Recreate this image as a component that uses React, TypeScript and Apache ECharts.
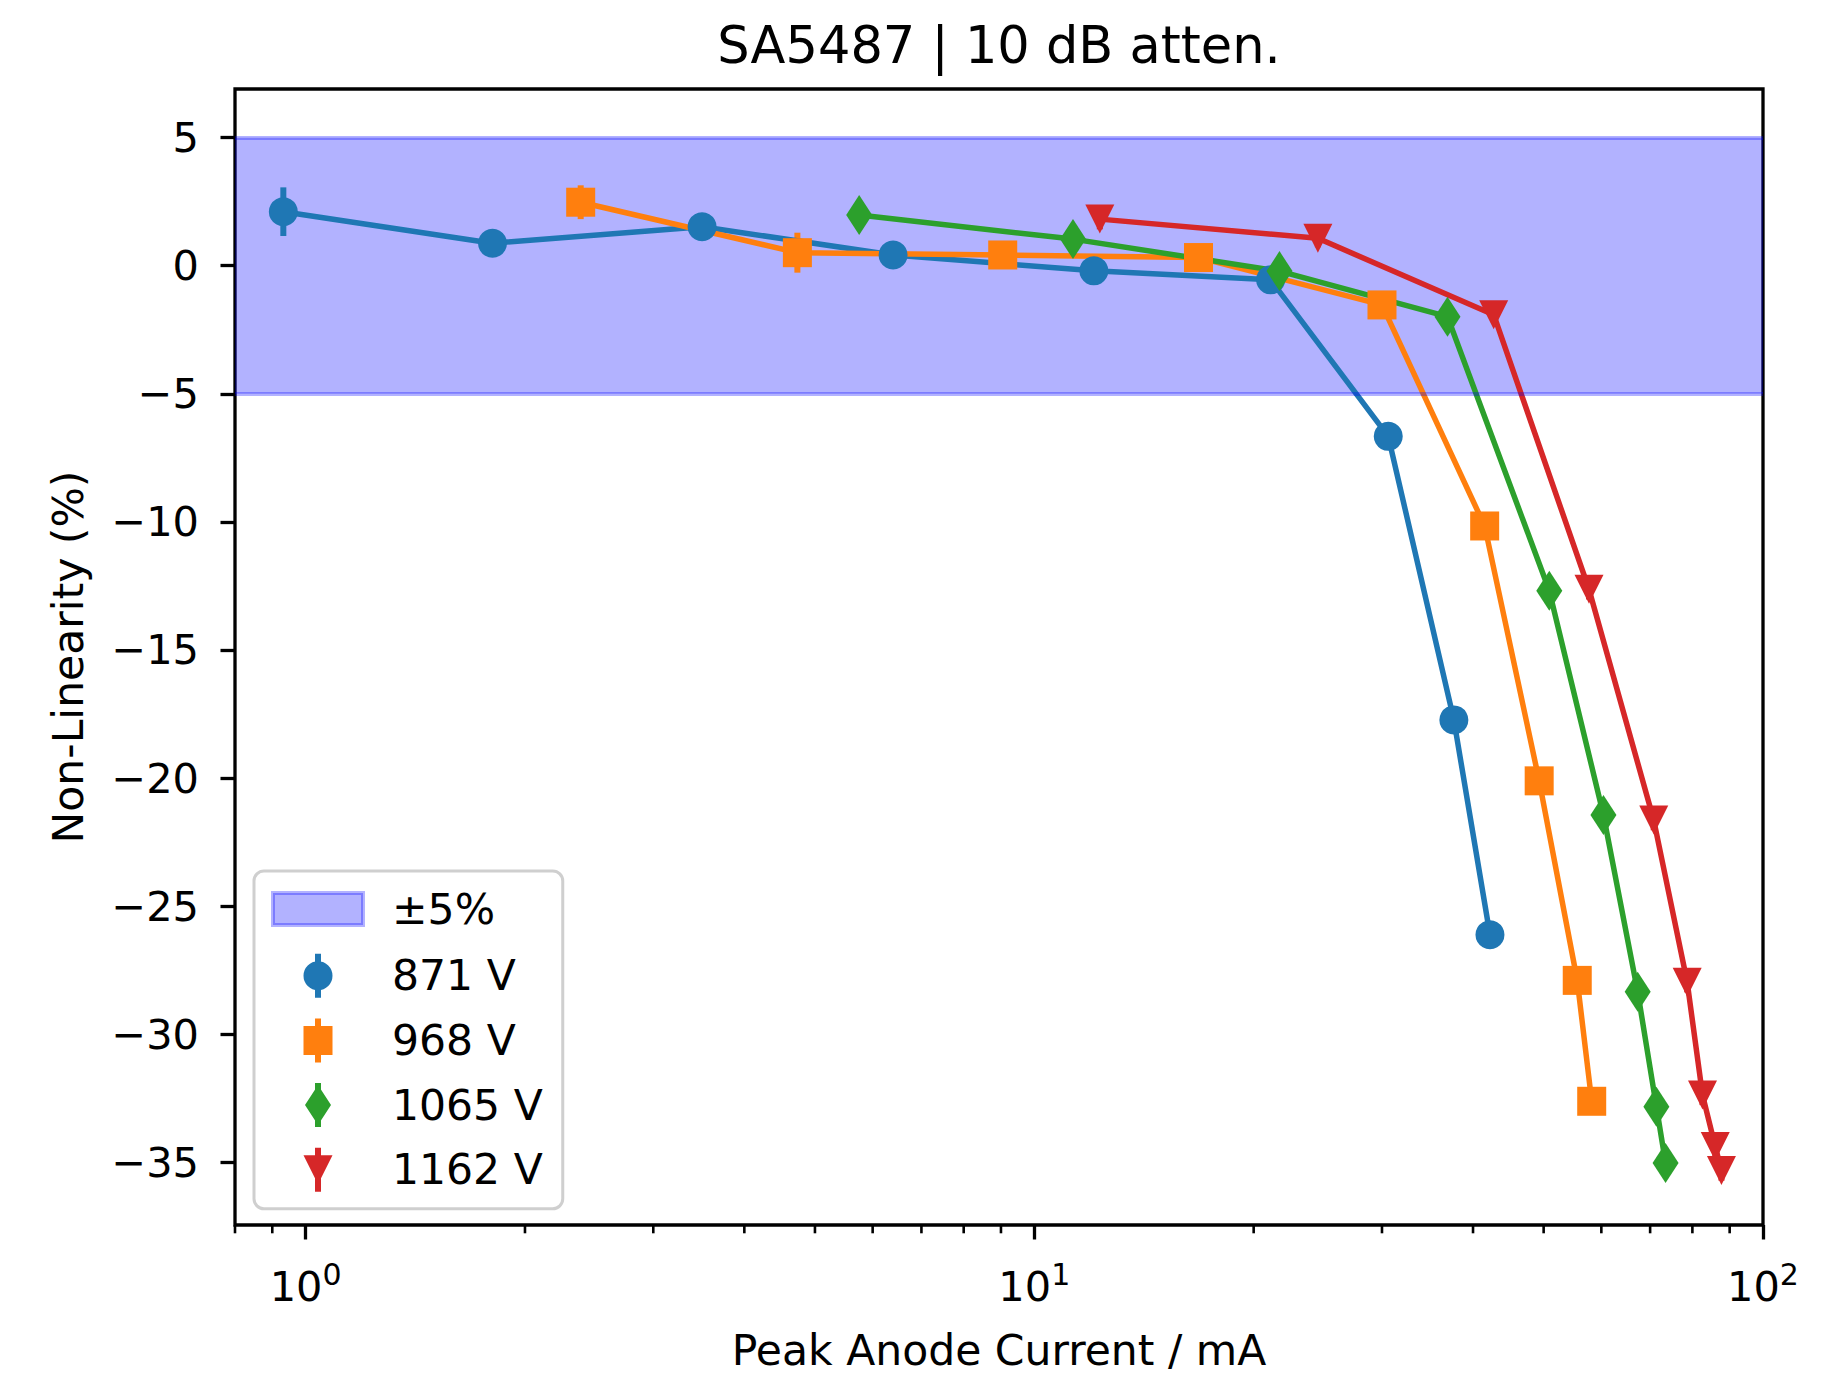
import React, { useEffect, useRef } from 'react';
import * as echarts from 'echarts';

const TITLE = 'SA5487 | 10 dB atten.';
const X_LABEL = 'Peak Anode Current / mA';
const Y_LABEL = 'Non-Linearity (%)';

const X_MIN = 0.8;
const X_MAX = 100;
const Y_MIN = -37.45;
const Y_MAX = 6.9;
const X_MAJOR = [1, 10, 100];
const X_MINOR = [0.8, 0.9, 2, 3, 4, 5, 6, 7, 8, 9, 20, 30, 40, 50, 60, 70, 80, 90];
const Y_TICKS = [-35, -30, -25, -20, -15, -10, -5, 0, 5];

const BAND = [-5, 5];
const BAND_LABEL = '±5%';

const NAMES = ['871 V', '968 V', '1065 V', '1162 V'];
const COLORS = ['#1f77b4', '#ff7f0e', '#2ca02c', '#d62728'];

const X_871 = [0.932, 1.805, 3.5, 6.4, 12.07, 21.1, 30.6, 37.65, 42.2];
const Y_871 = [2.11, 0.88, 1.52, 0.42, -0.2, -0.55, -6.66, -17.73, -26.12];
const E_871 = [0.95, 0.35, 0.35, 0.3, 0.3, 0.3, 0.4, 0.5, 0.5];

const X_968 = [2.385, 4.73, 9.05, 16.8, 30.0, 41.5, 49.3, 55.6, 58.2];
const Y_968 = [2.48, 0.51, 0.42, 0.32, -1.53, -10.16, -20.11, -27.9, -32.62];
const E_968 = [0.66, 0.78, 0.35, 0.3, 0.3, 0.4, 0.4, 0.4, 0.4];

const X_1065 = [5.75, 11.3, 21.7, 36.9, 50.9, 60.4, 67.3, 71.4, 73.5];
const Y_1065 = [1.98, 1.04, -0.21, -1.99, -12.69, -21.44, -28.34, -32.83, -35.03];
const E_1065 = [0.4, 0.35, 0.3, 0.3, 0.4, 0.4, 0.4, 0.4, 0.4];

const X_1162 = [12.3, 24.5, 42.7, 57.7, 70.8, 78.7, 82.6, 86.0, 87.7];
const Y_1162 = [1.82, 1.07, -1.91, -12.63, -21.64, -27.97, -32.37, -34.39, -35.32];
const E_1162 = [0.4, 0.35, 0.3, 0.4, 0.4, 0.4, 0.4, 0.4, 0.4];

const XS = [X_871, X_968, X_1065, X_1162];
const YS = [Y_871, Y_968, Y_1065, Y_1162];
const ES = [E_871, E_968, E_1065, E_1162];

const FONT = 'DejaVu Sans';
const PAD = 'M0 0M114 50';
const ICON_BAND = 'path://' + PAD + 'M0 9L90 9L90 41L0 41Z';
const BAR = 'M42 3L48 3L48 47L42 47Z';
const ICONS = [
  'path://' + PAD + 'M30.5 25A14.5 14.5 0 1 1 59.5 25A14.5 14.5 0 1 1 30.5 25Z' + BAR,
  'path://' + PAD + 'M30.5 10.5L59.5 10.5L59.5 39.5L30.5 39.5Z' + BAR,
  'path://' + PAD + 'M45 5L58 25L45 45L32 25Z' + BAR,
  'path://' + PAD + 'M30.5 10.5L59.5 10.5L45 39.5Z' + BAR,
];
const SYMBOLS = ['circle', 'rect', 'diamond', 'triangle'];
const SYMBOL_SIZES: any[] = [29, 29, [26, 40], [29, 29]];
const SYMBOL_ROTATE = [0, 0, 0, 180];

export default function App() {
  const ref = useRef<HTMLDivElement>(null);
  useEffect(() => {
    document.body.style.margin = '0';
    const chart = echarts.init(ref.current!, null, { renderer: 'svg' });
    const series: any[] = [];
    series.push({
      type: 'line',
      name: BAND_LABEL,
      data: [],
      silent: true,
      markArea: {
        silent: true,
        itemStyle: { color: 'rgba(0,0,255,0.3)', borderWidth: 0 },
        data: [[{ yAxis: BAND[1] }, { yAxis: BAND[0] }]],
      },
      markLine: {
        silent: true,
        symbol: ['none', 'none'],
        label: { show: false },
        lineStyle: { color: 'rgba(0,0,255,0.3)', width: 4, type: 'solid' },
        data: BAND.map((v) => ({ yAxis: v })),
      },
    });
    series.push({
      type: 'custom',
      silent: true,
      clip: false,
      data: X_MINOR.map((v) => [v, Y_MIN]),
      renderItem: (params: any, api: any) => {
        const p = api.coord([api.value(0), api.value(1)]);
        return {
          type: 'line',
          shape: { x1: p[0], y1: p[1], x2: p[0], y2: p[1] + 8.3 },
          style: { stroke: '#000', lineWidth: 2.6 },
        };
      },
    });
    for (let i = 0; i < 4; i++) {
      const color = COLORS[i];
      series.push({
        type: 'custom',
        silent: true,
        data: XS[i].map((x, j) => [x, YS[i][j] - ES[i][j], YS[i][j] + ES[i][j]]),
        encode: { x: 0, y: [1, 2] },
        renderItem: (params: any, api: any) => {
          const a = api.coord([api.value(0), api.value(2)]);
          const b = api.coord([api.value(0), api.value(1)]);
          return {
            type: 'line',
            shape: { x1: a[0], y1: a[1], x2: b[0], y2: b[1] },
            style: { stroke: color, lineWidth: 6 },
          };
        },
      });
      series.push({
        type: 'line',
        name: NAMES[i],
        data: XS[i].map((x, j) => [x, YS[i][j]]),
        symbol: SYMBOLS[i],
        symbolSize: SYMBOL_SIZES[i],
        symbolRotate: SYMBOL_ROTATE[i],
        showAllSymbol: true,
        itemStyle: { color },
        lineStyle: { color, width: 5.5 },
      });
    }

    chart.setOption({
      animation: false,
      backgroundColor: '#fff',
      textStyle: { fontFamily: FONT },
      title: {
        text: TITLE,
        left: 999,
        top: 20,
        padding: 0,
        textAlign: 'center',
        textStyle: { fontFamily: FONT, fontSize: 51, fontWeight: 'normal', color: '#000' },
      },
      grid: {
        left: 235,
        top: 89,
        right: 82,
        bottom: 150,
        show: true,
        borderColor: '#000',
        borderWidth: 3.3,
        backgroundColor: 'transparent',
        containLabel: false,
      },
      legend: {
        left: 254,
        top: 871,
        orient: 'vertical',
        selectedMode: false,
        itemWidth: 114,
        itemHeight: 50,
        itemGap: 14.7,
        padding: [11, 20, 14, 17],
        backgroundColor: 'rgba(255,255,255,0.8)',
        borderColor: '#cfcfcf',
        borderWidth: 3,
        borderRadius: 10,
        textStyle: { fontFamily: FONT, fontSize: 42.5, color: '#000' },
        data: [
          {
            name: BAND_LABEL,
            icon: ICON_BAND,
            itemStyle: { color: 'rgba(0,0,255,0.3)', borderColor: 'rgba(0,0,255,0.3)', borderWidth: 4 },
          },
          ...NAMES.map((n, i) => ({
            name: n,
            icon: ICONS[i],
            itemStyle: { color: COLORS[i], borderWidth: 0 },
          })),
        ],
      },
      xAxis: {
        type: 'log',
        logBase: 10,
        min: X_MIN,
        max: X_MAX,
        name: X_LABEL,
        nameLocation: 'middle',
        nameGap: 104,
        nameTextStyle: { fontFamily: FONT, fontSize: 42.5, color: '#000' },
        axisLine: { show: false, onZero: false },
        splitLine: { show: false },
        axisTick: {
          show: true,
          customValues: X_MAJOR,
          length: 14.5,
          lineStyle: { color: '#000', width: 3.3 },
        },
        axisLabel: {
          customValues: X_MAJOR,
          margin: 34,
          color: '#000',
          fontFamily: FONT,
          fontSize: 41.5,
          formatter: (v: number) => `{b|10}{s|${Math.round(Math.log10(v))}}`,
          rich: {
            b: { fontFamily: FONT, fontSize: 41.5, lineHeight: 48, verticalAlign: 'bottom', color: '#000' },
            s: { fontFamily: FONT, fontSize: 30, lineHeight: 30, verticalAlign: 'top', color: '#000' },
          },
        },
      },
      yAxis: {
        type: 'value',
        min: Y_MIN,
        max: Y_MAX,
        name: Y_LABEL,
        nameLocation: 'middle',
        nameRotate: 90,
        nameGap: 145,
        nameTextStyle: { fontFamily: FONT, fontSize: 42.5, color: '#000' },
        axisLine: { show: false, onZero: false },
        splitLine: { show: false },
        axisTick: {
          show: true,
          customValues: Y_TICKS,
          length: 14.5,
          lineStyle: { color: '#000', width: 3.3 },
        },
        axisLabel: {
          customValues: Y_TICKS,
          margin: 36,
          color: '#000',
          fontFamily: FONT,
          fontSize: 41.5,
          formatter: (v: number) => (v < 0 ? '\u2212' + Math.abs(v) : String(v)),
        },
      },
      series,
    });
    return () => chart.dispose();
  }, []);
  return <div ref={ref} style={{ width: 1845, height: 1377 }} />;
}
